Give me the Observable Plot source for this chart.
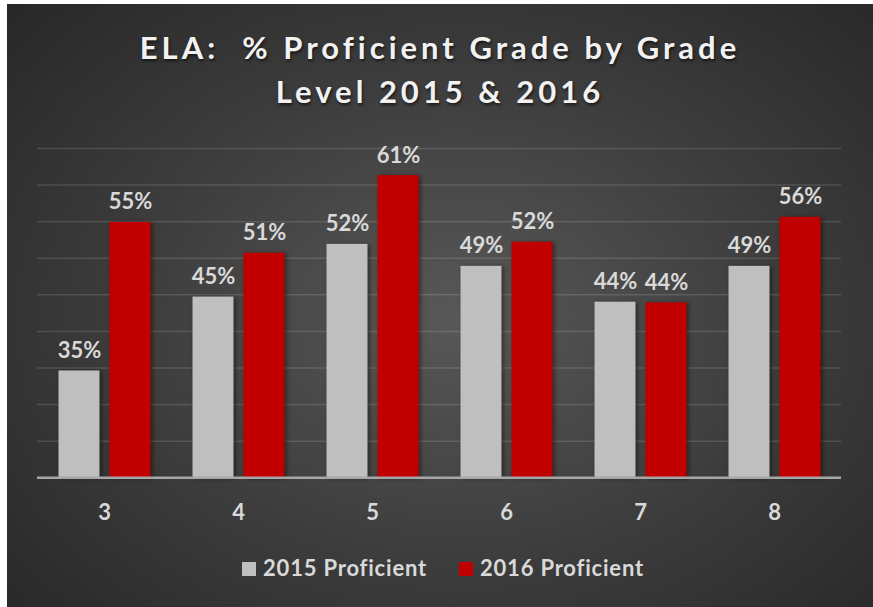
<!DOCTYPE html>
<html><head><meta charset="utf-8">
<script src="https://cdn.jsdelivr.net/npm/d3@7"></script>
<script src="https://cdn.jsdelivr.net/npm/@observablehq/plot@0.6"></script>
<style>
body{margin:0;background:#fff;}
#chart{position:absolute;left:7px;top:4px;width:866px;height:603px;overflow:hidden;
 background:radial-gradient(ellipse 70% 75% at 52% 52%, #585858 0%, #3c3c3c 55%, #282828 100%);
 font-family:Lato,sans-serif;font-weight:bold;}
#title{position:absolute;left:0;top:21px;width:100%;text-align:center;font-size:31px;line-height:44px;letter-spacing:4px;color:#f2f2f2;text-shadow:1px 2px 3px rgba(0,0,0,.6);}
#plot{position:absolute;left:0;top:116px;}
#plot g[aria-label="bar"] rect{filter:drop-shadow(2px 1px 2px rgba(0,0,0,.45));}
#legend{position:absolute;left:3px;width:866px;top:549px;text-align:center;font-size:22px;line-height:30px;letter-spacing:0.8px;color:#d9d9d9;white-space:nowrap;}
#legend .item{display:inline-block;margin:0 16px;}
#legend .sw{display:inline-block;width:14px;height:14px;margin-right:7px;vertical-align:baseline;}
</style></head>
<body>
<div id="chart">
 <div id="title">ELA:&nbsp; % Proficient Grade by Grade<br>Level 2015 &amp; 2016</div>
 <div id="plot"></div>
 <div id="legend"></div>
</div>
<script>
const grades = ["3","4","5","6","7","8"];
const series = ["2015 Proficient","2016 Proficient"];
const values2015 = [34.6, 44.7, 51.9, 48.9, 44.0, 48.9];
const values2016 = [54.9, 50.7, 61.3, 52.2, 43.9, 55.6];
const colors = ["#bfbfbf","#c00000"];
const yMin = 20, yMax = 65;
const yGrid = [25,30,35,40,45,50,55,60,65];

const rows = [];
grades.forEach((g,i)=>{
  rows.push({grade:g, series:series[0], value:values2015[i]});
  rows.push({grade:g, series:series[1], value:values2016[i]});
});

const chart = Plot.plot({
  width:866, height:420,
  marginTop:28, marginBottom:62.7, marginLeft:29.5, marginRight:31.3,
  style:{background:"transparent", fontFamily:"Lato, sans-serif", fontSize:"22px", fontWeight:"bold", color:"#d9d9d9", overflow:"visible"},
  fx:{domain:grades, paddingInner:0, paddingOuter:0, label:null},
  x:{domain:series, paddingInner:0.2, paddingOuter:0.398, axis:null},
  y:{domain:[yMin,yMax], axis:null},
  color:{domain:series, range:colors},
  marks:[
    Plot.ruleY(yGrid, {stroke:"#ffffff", strokeOpacity:0.13, strokeWidth:1.5}),
    Plot.barY(rows, {fx:"grade", x:"series", y1:yMin, y2:"value", fill:"series"}),
    Plot.ruleY([yMin], {stroke:"#a6a6a6", strokeWidth:2.5}),
    Plot.text(rows, {fx:"grade", x:"series", y:"value", text:d=>Math.round(d.value)+"%", lineAnchor:"bottom", dy:-13, fill:"#d9d9d9"}),
    Plot.axisFx({anchor:"bottom", tickSize:0, tickPadding:27, label:null})
  ]
});
document.getElementById("plot").appendChild(chart);

const legend = document.getElementById("legend");
series.forEach((s,i)=>{
  const it = document.createElement("span"); it.className="item";
  const sw = document.createElement("span"); sw.className="sw"; sw.style.background=colors[i];
  it.appendChild(sw); it.appendChild(document.createTextNode(s));
  legend.appendChild(it);
});
</script>
</body></html>
